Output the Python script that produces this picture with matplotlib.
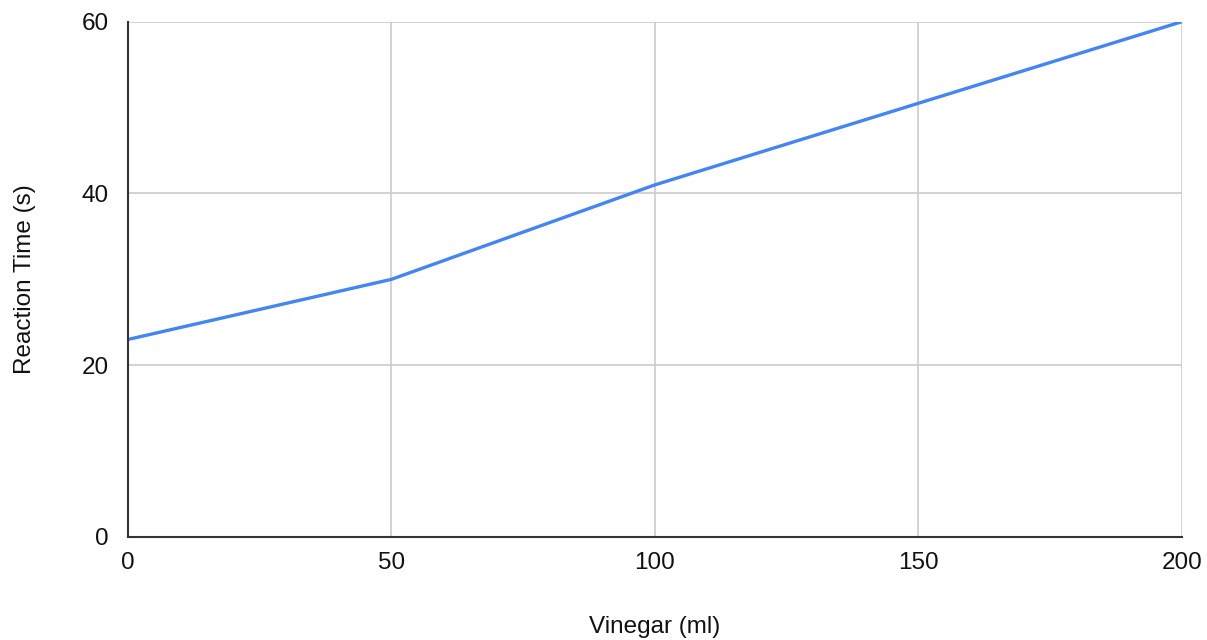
import matplotlib
matplotlib.use("Agg")
import matplotlib.pyplot as plt

vinegar = [0, 50, 100, 200]
reaction_time = [23, 30, 41, 60]
x_ticks = [0, 50, 100, 150, 200]
y_ticks = [0, 20, 40, 60]

plt.rcParams['font.family'] = ['Liberation Sans', 'DejaVu Sans']

fig = plt.figure(figsize=(12.07, 6.40), dpi=100)
ax = fig.add_axes([0.106, 0.161, 0.873, 0.805])

ax.plot(vinegar, reaction_time, color='#4285F4', linewidth=2.4, solid_capstyle='round', zorder=3)

ax.set_xlim(0, 200)
ax.set_ylim(0, 60)
ax.set_xticks(x_ticks)
ax.set_yticks(y_ticks)
ax.grid(True, color='#cccccc', linewidth=1.2)
ax.tick_params(length=0, labelsize=17.5, colors='#111111')
ax.tick_params(axis='x', pad=11)
ax.tick_params(axis='y', pad=14)

for side in ['top', 'right']:
    ax.spines[side].set_visible(False)
for side in ['left', 'bottom']:
    ax.spines[side].set_color('#333333')
    ax.spines[side].set_linewidth(1.5)
    ax.spines[side].set_zorder(4)

ax.set_xlabel('Vinegar (ml)', fontsize=17.5, color='#111111', labelpad=30)
ax.set_ylabel('Reaction Time (s)', fontsize=17.5, color='#111111', labelpad=33)

fig.savefig('out.png', dpi=100)
